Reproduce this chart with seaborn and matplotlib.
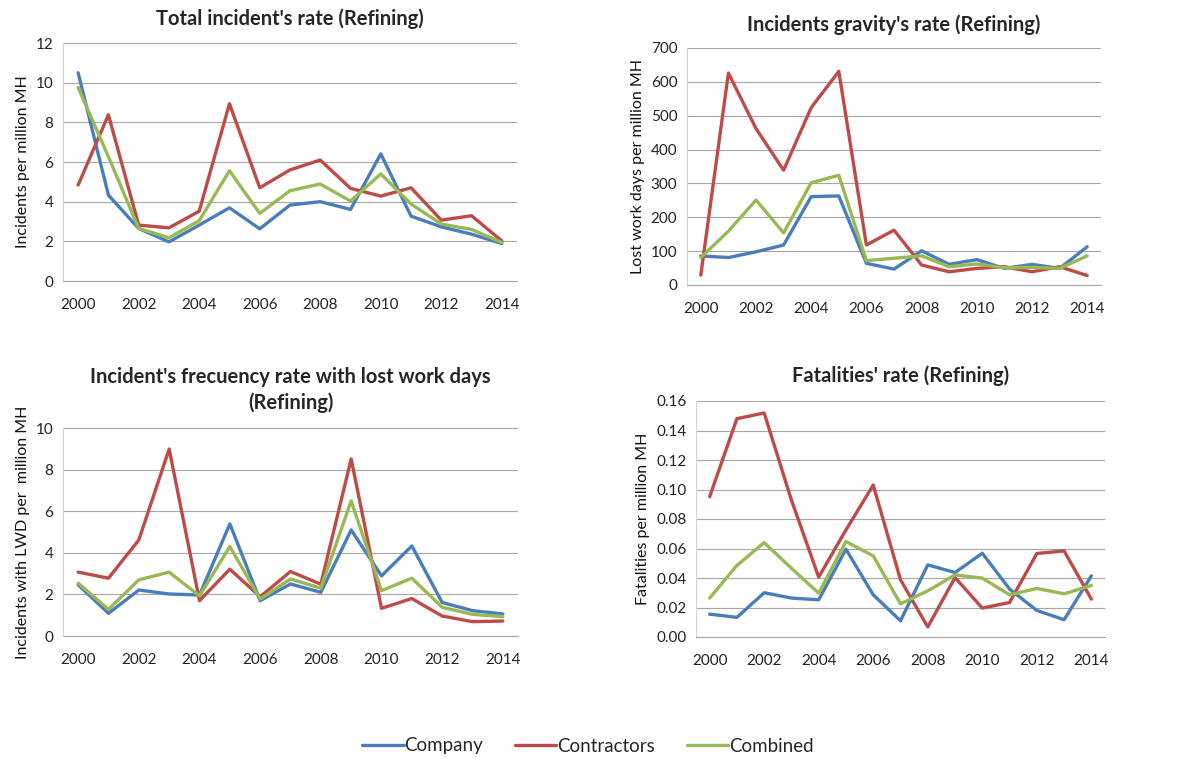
import pandas as pd
import matplotlib.pyplot as plt
import seaborn as sns
import numpy as np
from matplotlib.lines import Line2D

# Data
years = list(range(2000, 2015))

total_company = [10.5, 4.33, 2.65, 1.97, 2.82, 3.69, 2.63, 3.83, 4.0, 3.61, 6.41, 3.27, 2.73, 2.36, 1.89]
total_contractors = [4.84, 8.38, 2.82, 2.68, 3.52, 8.94, 4.7, 5.6, 6.1, 4.67, 4.28, 4.7, 3.07, 3.29, 2.02]
total_combined = [9.76, 6.27, 2.65, 2.18, 3.04, 5.56, 3.41, 4.55, 4.89, 4.03, 5.4, 3.88, 2.87, 2.6, 1.94]

gravity_company = [86, 81, 98, 118, 261, 263, 64, 47, 101, 61, 75, 49, 61, 49, 113]
gravity_contractors = [29, 626, 462, 339, 524, 631, 118, 162, 59, 39, 49, 54, 39, 54, 28]
gravity_combined = [81, 159, 251, 154, 302, 324, 72, 79, 86, 54, 62, 51, 52, 49, 86]

lwd_company = [2.46, 1.09, 2.21, 2.02, 1.97, 5.39, 1.70, 2.5, 2.1, 5.1, 2.89, 4.33, 1.61, 1.22, 1.06]
lwd_contractors = [3.07, 2.78, 4.62, 8.99, 1.70, 3.21, 1.89, 3.1, 2.49, 8.51, 1.33, 1.80, 0.96, 0.69, 0.72]
lwd_combined = [2.54, 1.28, 2.7, 3.07, 1.93, 4.3, 1.78, 2.74, 2.3, 6.5, 2.18, 2.78, 1.38, 1.04, 0.93]

fatal_company = [0.0155, 0.0133, 0.030, 0.0264, 0.0252, 0.0595, 0.0286, 0.011, 0.0489, 0.0437, 0.0568, 0.0325, 0.018, 0.0117, 0.0415]
fatal_contractors = [0.0951, 0.148, 0.1519, 0.0928, 0.0406, 0.0726, 0.103, 0.0388, 0.0068, 0.0403, 0.0196, 0.0234, 0.0566, 0.0584, 0.0257]
fatal_combined = [0.0264, 0.0485, 0.064, 0.0466, 0.0297, 0.0647, 0.055, 0.0225, 0.0313, 0.0421, 0.0399, 0.0286, 0.0329, 0.0293, 0.0349]

series_names = ['Company', 'Contractors', 'Combined']
palette = {'Company': '#4A7EBB', 'Contractors': '#BE4B48', 'Combined': '#98B954'}

sns.set_style('white')
plt.rcParams['font.family'] = ['Lato', 'DejaVu Sans']

GRID = '#A6A6A6'
AXIS = '#D4D4D4'


def make_df(company, contractors, combined):
    frames = []
    for name, vals in zip(series_names, [company, contractors, combined]):
        frames.append(pd.DataFrame({'Year': years, 'Value': vals, 'Series': name}))
    return pd.concat(frames, ignore_index=True)


def style_axis(ax, ymax, ystep, ylabel, fmt):
    ax.set_xlim(1999.5, 2014.5)
    ax.set_ylim(0, ymax)
    yt = np.arange(0, ymax + ystep / 2, ystep)
    ax.set_yticks(yt)
    ax.set_yticklabels([fmt.format(v) for v in yt], fontsize=11, color='#222222')
    # category boundaries as tick marks, labels every other year
    ax.set_xticks(np.arange(1999.5, 2015, 1))
    ax.set_xticklabels([])
    ax.set_xticks(years[::2], minor=True)
    ax.set_xticklabels([str(y) for y in years[::2]], minor=True, fontsize=11, color='#222222')
    ax.tick_params(axis='x', which='major', length=5, width=0.8, color=AXIS, direction='out')
    ax.tick_params(axis='x', which='minor', length=0, pad=12)
    ax.tick_params(axis='y', length=4, width=0.8, color=AXIS, direction='out', pad=3)
    ax.yaxis.grid(True, color=GRID, linewidth=0.8)
    ax.set_axisbelow(True)
    for s in ['top', 'right']:
        ax.spines[s].set_visible(False)
    ax.spines['left'].set_color(AXIS)
    ax.spines['bottom'].set_color(GRID)
    ax.spines['left'].set_linewidth(0.8)
    ax.spines['bottom'].set_linewidth(0.8)
    ax.set_xlabel('')
    ax.set_ylabel(ylabel, fontsize=11.5, color='#111111')
    leg = ax.get_legend()
    if leg is not None:
        leg.remove()


fig = plt.figure(figsize=(11.83, 7.58), dpi=100)
W, H = 1183, 758


def add_ax(x0, y0, x1, y1):
    return fig.add_axes([x0 / W, 1 - y1 / H, (x1 - x0) / W, (y1 - y0) / H])


ax1 = add_ax(63, 43, 517, 281)
ax2 = add_ax(687, 48, 1101, 285)
ax3 = add_ax(63, 428, 518, 636)
ax4 = add_ax(696, 401, 1105, 637)

panels = [
    (ax1, make_df(total_company, total_contractors, total_combined), 12, 2,
     'Incidents per million MH', '{:.0f}', "Total incident's rate (Refining)", 13),
    (ax2, make_df(gravity_company, gravity_contractors, gravity_combined), 700, 100,
     'Lost work days per million MH', '{:.0f}', "Incidents gravity's rate (Refining)", 12),
    (ax3, make_df(lwd_company, lwd_contractors, lwd_combined), 10, 2,
     'Incidents with LWD per  million MH', '{:.0f}',
     "Incident's frecuency rate with lost work days\n(Refining)", 14),
    (ax4, make_df(fatal_company, fatal_contractors, fatal_combined), 0.16, 0.02,
     'Fatalities per million MH', '{:.2f}', "Fatalities' rate (Refining)", 14),
]

for ax, df, ymax, ystep, ylabel, fmt, title, tpad in panels:
    sns.lineplot(data=df, x='Year', y='Value', hue='Series', palette=palette,
                 linewidth=2.4, ax=ax)
    style_axis(ax, ymax, ystep, ylabel, fmt)
    ax.set_title(title, fontsize=14.5, fontweight='bold', pad=tpad, linespacing=1.3)

handles = [Line2D([0], [0], color=palette[n], linewidth=2.4) for n in series_names]
fig.legend(handles, series_names, loc='center', bbox_to_anchor=(588 / W, 1 - 746 / H),
           ncol=3, frameon=False, fontsize=13.5, handlelength=2.2, handletextpad=0.05,
           columnspacing=1.7)

fig.savefig('out.png', dpi=100)
